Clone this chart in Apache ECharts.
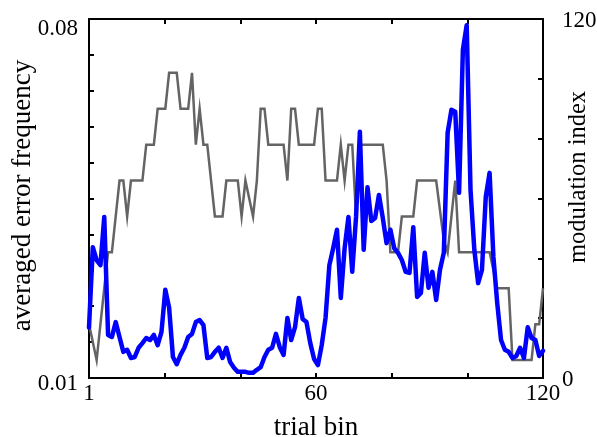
<!DOCTYPE html>
<html>
<head>
<meta charset="utf-8">
<script src="https://cdn.jsdelivr.net/npm/echarts@6/dist/echarts.min.js"></script>
<style>
  html, body { margin: 0; padding: 0; background: #fff; }
  #chart { width: 597px; height: 437px; }
</style>
</head>
<body>
<div id="chart"></div>
<script>
// Averaged error frequency per trial bin (left axis)
const errorFreq = [
  0.0198,0.0355,0.0330,0.0320,0.0414,0.0184,0.0180,0.0209,0.0180,0.0151,
  0.0155,0.0139,0.0141,0.0159,0.0168,0.0178,0.0174,0.0184,0.0164,0.0190,
  0.0272,0.0237,0.0141,0.0127,0.0145,0.0159,0.0180,0.0186,0.0209,0.0213,
  0.0203,0.0139,0.0141,0.0151,0.0159,0.0139,0.0159,0.0131,0.0120,0.0112,
  0.0112,0.0112,0.0110,0.0110,0.0116,0.0121,0.0141,0.0155,0.0159,0.0186,
  0.0160,0.0145,0.0217,0.0174,0.0199,0.0256,0.0215,0.0209,0.0168,0.0137,
  0.0125,0.0164,0.0217,0.0320,0.0353,0.0389,0.0256,0.0353,0.0414,0.0307,
  0.0414,0.0580,0.0350,0.0472,0.0406,0.0412,0.0457,0.0412,0.0363,0.0389,
  0.0353,0.0344,0.0330,0.0307,0.0305,0.0394,0.0258,0.0266,0.0344,0.0276,
  0.0307,0.0252,0.0311,0.0344,0.0578,0.0623,0.0619,0.0461,0.0740,0.0788,
  0.0467,0.0350,0.0285,0.0311,0.0453,0.0500,0.0336,0.0246,0.0174,0.0155,
  0.0151,0.0139,0.0143,0.0159,0.0139,0.0199,0.0178,0.0174,0.0143,0.0153
];

// Modulation index per trial bin (right axis)
const modulationIndex = [
  18,12,6,18,30,42,42,54,66,66,
  54,66,66,66,66,78,78,78,90,90,
  90,102,102,102,90,90,90,102,78,90,
  78,78,66,54,54,54,66,66,66,66,
  54,66,60,54,66,90,90,78,78,78,
  78,78,66,90,90,78,78,78,78,78,
  90,90,66,66,66,66,78,66,78,78,
  54,78,78,78,78,78,78,78,66,42,
  42,42,54,54,54,54,66,66,66,66,
  66,66,56,46,42,54,66,42,42,42,
  42,42,42,42,42,42,36,30,30,30,
  30,6,6,6,6,6,6,18,18,30
];

// Axis ticks and labels
const xTickValues = [1, 20.8333, 40.6667, 60.5, 80.3333, 100.1667, 120];
const xLabelValues = [1, 60.5, 120];
const xTickLabels = ['1', '60', '120'];
const leftTickValues = [0.01, 0.017, 0.024, 0.031, 0.038, 0.045, 0.052, 0.059, 0.066, 0.073, 0.08];
const leftLabelValues = [0.01, 0.08];
const leftTickLabels = ['0.01', '0.08'];
const rightTickValues = [0, 20, 40, 60, 80, 100, 120];
const rightLabelValues = [0, 120];
const rightTickLabels = ['0', '120'];

const trialBin = errorFreq.map((_, k) => k + 1);
const errorData = trialBin.map((b, k) => [b, errorFreq[k]]);
const modData = trialBin.map((b, k) => [b, modulationIndex[k]]);

const FONT = 'Liberation Serif';
const axisLineStyle = { color: '#000', width: 2 };
const tickStyle = { color: '#000', width: 2 };
const labelText = { fontFamily: FONT, fontSize: 23, color: '#000' };

const chart = echarts.init(document.getElementById('chart'), null, { renderer: 'canvas' });
chart.setOption({
  animation: false,
  backgroundColor: '#fff',
  grid: { left: 89, right: 54, top: 19, bottom: 59, containLabel: false, outerBoundsMode: 'none' },
  xAxis: [
    {
      type: 'value', min: 1, max: 120, position: 'bottom',
      axisLine: { show: true, lineStyle: axisLineStyle },
      axisTick: { show: true, inside: true, length: 5, lineStyle: tickStyle, customValues: xTickValues },
      axisLabel: Object.assign({
        customValues: xLabelValues, margin: 4,
        formatter: v => xTickLabels[xLabelValues.indexOf(v)]
      }, labelText),
      splitLine: { show: false },
      name: 'trial bin', nameLocation: 'middle', nameGap: 36, nameMoveOverlap: false,
      nameTextStyle: { fontFamily: FONT, fontSize: 27, color: '#000' }
    },
    {
      type: 'value', min: 1, max: 120, position: 'top',
      axisLine: { show: true, lineStyle: axisLineStyle },
      axisTick: { show: true, inside: true, length: 5, lineStyle: tickStyle, customValues: xTickValues },
      axisLabel: { show: false },
      splitLine: { show: false }
    }
  ],
  yAxis: [
    {
      type: 'value', min: 0.01, max: 0.08, position: 'left',
      axisLine: { show: true, lineStyle: axisLineStyle },
      axisTick: { show: true, inside: true, length: 5, lineStyle: tickStyle, customValues: leftTickValues },
      axisLabel: Object.assign({
        customValues: leftLabelValues, margin: 11,
        // the upper label sits a little lower below its tick than the lower one
        formatter: v => {
          const k = leftLabelValues.indexOf(v);
          return '{' + (k === 1 ? 'hi' : 'lo') + '|' + leftTickLabels[k] + '}';
        },
        rich: {
          hi: Object.assign({ padding: [20, 0, 0, 0] }, labelText),
          lo: Object.assign({ padding: [12, 0, 0, 0] }, labelText)
        }
      }, labelText),
      splitLine: { show: false },
      name: 'averaged error frequency', nameLocation: 'middle', nameGap: 53, nameRotate: 90,
      nameMoveOverlap: false,
      nameTextStyle: { fontFamily: FONT, fontSize: 27, color: '#000', padding: [0, 0, 0, 6] }
    },
    {
      type: 'value', min: 0, max: 120, position: 'right',
      axisLine: { show: true, lineStyle: axisLineStyle },
      axisTick: { show: true, inside: true, length: 5, lineStyle: tickStyle, customValues: rightTickValues },
      axisLabel: Object.assign({
        customValues: rightLabelValues, margin: 19,
        formatter: v => '{v|' + rightTickLabels[rightLabelValues.indexOf(v)] + '}',
        rich: { v: Object.assign({ padding: [4, 0, 0, 0] }, labelText) }
      }, labelText),
      splitLine: { show: false }
    }
  ],
  graphic: [
    {
      type: 'text', x: 579, y: 177, rotation: Math.PI / 2,
      style: {
        text: 'modulation index', fontFamily: FONT, fontSize: 24.5, fill: '#000',
        align: 'center', verticalAlign: 'middle'
      }
    }
  ],
  series: [
    {
      name: 'modulation index', type: 'line', xAxisIndex: 0, yAxisIndex: 1,
      data: modData, showSymbol: false, symbol: 'none',
      lineStyle: { color: '#646464', width: 2.5, join: 'miter' },
      z: 2
    },
    {
      name: 'averaged error frequency', type: 'line', xAxisIndex: 0, yAxisIndex: 0,
      data: errorData, showSymbol: false, symbol: 'none',
      lineStyle: { color: '#0000ff', width: 4.5, cap: 'round', join: 'round' },
      z: 3
    }
  ]
});
</script>
</body>
</html>
